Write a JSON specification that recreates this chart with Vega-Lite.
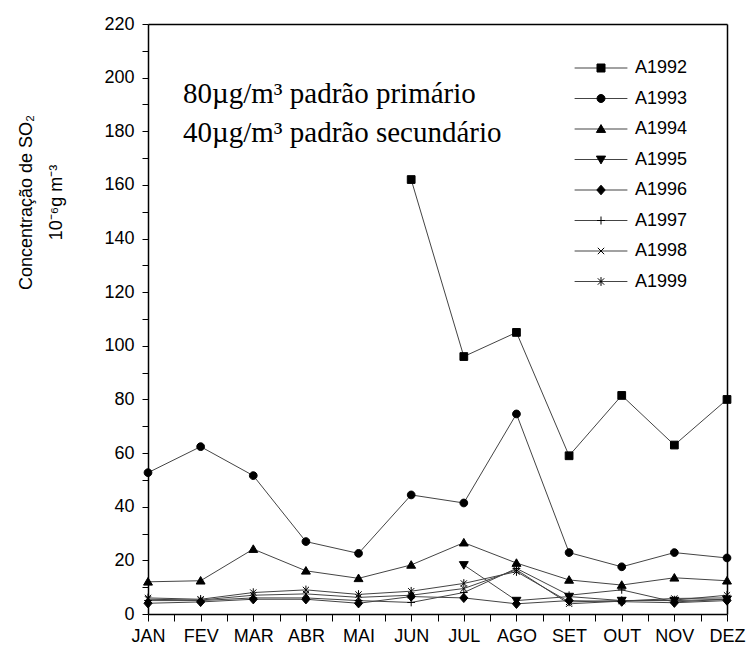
{
  "$schema": "https://vega.github.io/schema/vega-lite/v6.json",
  "autosize": {"type": "none"},
  "padding": {"left": 148, "top": 24, "right": 20, "bottom": 34},
  "width": 579,
  "height": 590,
  "background": "white",
  "config": {
    "view": {"stroke": null},
    "axis": {"domainColor": "black", "domainWidth": 1.5, "labelColor": "black", "labelFont": "Liberation Sans", "labelFontSize": 18, "grid": false}
  },
  "data": {"values": [
    {"serie": "A1992", "mes": 6, "valor": 162},
    {"serie": "A1992", "mes": 7, "valor": 96},
    {"serie": "A1992", "mes": 8, "valor": 105},
    {"serie": "A1992", "mes": 9, "valor": 59},
    {"serie": "A1992", "mes": 10, "valor": 81.5},
    {"serie": "A1992", "mes": 11, "valor": 63},
    {"serie": "A1992", "mes": 12, "valor": 80},
    {"serie": "A1993", "mes": 1, "valor": 52.7},
    {"serie": "A1993", "mes": 2, "valor": 62.4},
    {"serie": "A1993", "mes": 3, "valor": 51.6},
    {"serie": "A1993", "mes": 4, "valor": 27},
    {"serie": "A1993", "mes": 5, "valor": 22.6},
    {"serie": "A1993", "mes": 6, "valor": 44.4},
    {"serie": "A1993", "mes": 7, "valor": 41.4},
    {"serie": "A1993", "mes": 8, "valor": 74.6},
    {"serie": "A1993", "mes": 9, "valor": 22.9},
    {"serie": "A1993", "mes": 10, "valor": 17.6},
    {"serie": "A1993", "mes": 11, "valor": 22.9},
    {"serie": "A1993", "mes": 12, "valor": 20.9},
    {"serie": "A1994", "mes": 1, "valor": 12},
    {"serie": "A1994", "mes": 2, "valor": 12.4},
    {"serie": "A1994", "mes": 3, "valor": 24.2},
    {"serie": "A1994", "mes": 4, "valor": 16.1},
    {"serie": "A1994", "mes": 5, "valor": 13.3},
    {"serie": "A1994", "mes": 6, "valor": 18.3},
    {"serie": "A1994", "mes": 7, "valor": 26.6},
    {"serie": "A1994", "mes": 8, "valor": 19},
    {"serie": "A1994", "mes": 9, "valor": 12.7},
    {"serie": "A1994", "mes": 10, "valor": 10.8},
    {"serie": "A1994", "mes": 11, "valor": 13.5},
    {"serie": "A1994", "mes": 12, "valor": 12.4},
    {"serie": "A1995", "mes": 7, "valor": 18.3},
    {"serie": "A1995", "mes": 8, "valor": 5},
    {"serie": "A1995", "mes": 9, "valor": 6.5},
    {"serie": "A1995", "mes": 10, "valor": 5},
    {"serie": "A1995", "mes": 11, "valor": 5},
    {"serie": "A1995", "mes": 12, "valor": 5.5},
    {"serie": "A1996", "mes": 1, "valor": 4},
    {"serie": "A1996", "mes": 2, "valor": 4.5},
    {"serie": "A1996", "mes": 3, "valor": 5.5},
    {"serie": "A1996", "mes": 4, "valor": 5.5},
    {"serie": "A1996", "mes": 5, "valor": 4},
    {"serie": "A1996", "mes": 6, "valor": 6.5},
    {"serie": "A1996", "mes": 7, "valor": 6},
    {"serie": "A1996", "mes": 8, "valor": 3.8},
    {"serie": "A1996", "mes": 9, "valor": 5},
    {"serie": "A1996", "mes": 10, "valor": 4.6},
    {"serie": "A1996", "mes": 11, "valor": 4.2},
    {"serie": "A1996", "mes": 12, "valor": 5},
    {"serie": "A1997", "mes": 1, "valor": 5},
    {"serie": "A1997", "mes": 2, "valor": 5},
    {"serie": "A1997", "mes": 3, "valor": 6},
    {"serie": "A1997", "mes": 4, "valor": 6},
    {"serie": "A1997", "mes": 5, "valor": 5},
    {"serie": "A1997", "mes": 6, "valor": 4.3},
    {"serie": "A1997", "mes": 7, "valor": 8},
    {"serie": "A1997", "mes": 8, "valor": 17},
    {"serie": "A1997", "mes": 9, "valor": 7},
    {"serie": "A1997", "mes": 10, "valor": 9},
    {"serie": "A1997", "mes": 11, "valor": 4.5},
    {"serie": "A1997", "mes": 12, "valor": 5.5},
    {"serie": "A1998", "mes": 1, "valor": 5.5},
    {"serie": "A1998", "mes": 2, "valor": 5.2},
    {"serie": "A1998", "mes": 3, "valor": 7},
    {"serie": "A1998", "mes": 4, "valor": 7.5},
    {"serie": "A1998", "mes": 5, "valor": 6.2},
    {"serie": "A1998", "mes": 6, "valor": 7},
    {"serie": "A1998", "mes": 7, "valor": 9.5},
    {"serie": "A1998", "mes": 8, "valor": 16.5},
    {"serie": "A1998", "mes": 9, "valor": 3.8},
    {"serie": "A1998", "mes": 10, "valor": 4.8},
    {"serie": "A1998", "mes": 11, "valor": 5.8},
    {"serie": "A1998", "mes": 12, "valor": 6},
    {"serie": "A1999", "mes": 1, "valor": 6},
    {"serie": "A1999", "mes": 2, "valor": 5.5},
    {"serie": "A1999", "mes": 3, "valor": 8},
    {"serie": "A1999", "mes": 4, "valor": 9},
    {"serie": "A1999", "mes": 5, "valor": 7.3},
    {"serie": "A1999", "mes": 6, "valor": 8.5},
    {"serie": "A1999", "mes": 7, "valor": 11.4},
    {"serie": "A1999", "mes": 8, "valor": 15.8},
    {"serie": "A1999", "mes": 9, "valor": 4.5},
    {"serie": "A1999", "mes": 10, "valor": 5},
    {"serie": "A1999", "mes": 11, "valor": 5.2},
    {"serie": "A1999", "mes": 12, "valor": 7}
  ]},
  "layer": [
    {
      "mark": {"type": "line", "strokeWidth": 1},
      "encoding": {
        "x": {"field": "mes", "type": "quantitative",
          "scale": {"domain": [1, 12], "nice": false, "zero": false},
          "axis": {"orient": "bottom", "title": null, "ticks": true, "tickColor": "black", "tickWidth": 1, "tickSize": 7,
            "values": [1, 1.5, 2, 2.5, 3, 3.5, 4, 4.5, 5, 5.5, 6, 6.5, 7, 7.5, 8, 8.5, 9, 9.5, 10, 10.5, 11, 11.5, 12],
            "labelExpr": "datum.value % 1 === 0 ? ['JAN','FEV','MAR','ABR','MAI','JUN','JUL','AGO','SET','OUT','NOV','DEZ'][datum.value - 1] : ''",
            "labelOverlap": false, "labelFlush": false, "labelPadding": 6}},
        "y": {"field": "valor", "type": "quantitative",
          "scale": {"domain": [0, 220], "nice": false},
          "axis": {"orient": "left", "ticks": true, "tickColor": "black", "tickWidth": 1, "tickSize": 6,
            "title": ["Concentração de SO₂", "10⁻⁶g m⁻³"],
            "titleFont": "Liberation Sans", "titleFontSize": 18, "titleFontWeight": "normal", "titleColor": "black",
            "titleAngle": -90, "titleAlign": "center", "titleBaseline": "top", "titleLineHeight": 30,
            "titleX": -131, "titleY": 178,
            "values": [0, 10, 20, 30, 40, 50, 60, 70, 80, 90, 100, 110, 120, 130, 140, 150, 160, 170, 180, 190, 200, 210, 220],
            "labelExpr": "datum.value % 20 === 0 ? datum.label : ''",
            "labelOverlap": false, "labelFlush": false, "labelPadding": 8}},
        "detail": {"field": "serie"},
        "color": {"field": "serie", "type": "nominal",
          "scale": {"domain": ["A1992", "A1993", "A1994", "A1995", "A1996", "A1997", "A1998", "A1999"],
                    "range": ["#444444", "#444444", "#444444", "#444444", "#444444", "#444444", "#444444", "#444444"]},
          "legend": {"title": null, "orient": "none", "legendX": 444, "legendY": 35, "padding": 0,
            "symbolType": "M-6.6,0H6.6", "symbolSize": 64, "symbolStrokeWidth": 1.2,
            "labelFont": "Liberation Sans", "labelFontSize": 18, "labelColor": "black", "labelOpacity": 0,
            "labelOffset": 25, "rowPadding": 12.5}}
      }
    },
    {
      "mark": {"type": "point", "filled": true, "fill": "black", "stroke": "black", "strokeWidth": 1, "size": 60, "opacity": 1},
      "encoding": {
        "x": {"field": "mes", "type": "quantitative",
          "axis": {"orient": "top", "title": null, "labels": false, "ticks": false}},
        "y": {"field": "valor", "type": "quantitative",
          "axis": {"orient": "right", "title": null, "labels": false, "ticks": false}},
        "shape": {"field": "serie", "type": "nominal",
          "scale": {
            "range": [
              "M-1,-1H1V1H-1Z",
              "M-1,0A1,1,0,1,0,1,0A1,1,0,1,0,-1,0Z",
              "M0,-1.1L1.15,0.85H-1.15Z",
              "M0,1.1L1.15,-0.85H-1.15Z",
              "M0,-1.2L1.05,0L0,1.2L-1.05,0Z",
              "M-1,0H1M0,-1V1",
              "M-0.8,-0.8L0.8,0.8M-0.8,0.8L0.8,-0.8",
              "M-0.8,-0.8L0.8,0.8M-0.8,0.8L0.8,-0.8M0,-1.1V1.1"
            ]},
          "legend": {
            "title": null, "orient": "none", "legendX": 444, "legendY": 35, "padding": 0,
            "symbolSize": 64, "symbolStrokeWidth": 1,
            "labelFont": "Liberation Sans", "labelFontSize": 18, "labelColor": "black",
            "labelOffset": 25, "rowPadding": 12.5}}
      }
    },
    {
      "data": {"values": [{"nota": "padrões"}]},
      "mark": {"type": "text", "text": ["80µg/m³ padrão primário", "40µg/m³ padrão secundário"],
        "font": "Liberation Serif", "fontSize": 29, "align": "left", "baseline": "alphabetic", "lineHeight": 39, "color": "black"},
      "encoding": {
        "x": {"datum": 1.665, "type": "quantitative", "axis": null},
        "y": {"datum": 190.5, "type": "quantitative", "axis": null}
      }
    }
  ],
  "resolve": {"axis": {"x": "independent", "y": "independent"}}
}
